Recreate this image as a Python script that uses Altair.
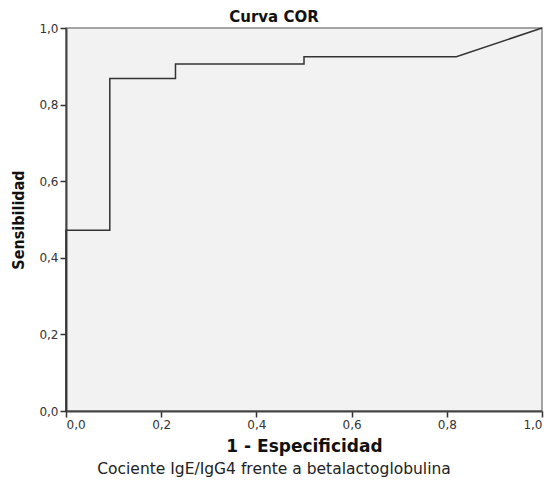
import altair as alt
import pandas as pd

# ROC curve steps (1 - specificity, sensitivity)
fpr = [0.0, 0.0, 0.092, 0.092, 0.23, 0.23, 0.5, 0.5, 0.82, 1.0]
tpr = [0.0, 0.472, 0.472, 0.868, 0.868, 0.906, 0.906, 0.925, 0.925, 1.0]
tick_values = [0.0, 0.2, 0.4, 0.6, 0.8, 1.0]

chart_title = "Curva COR"
x_title = "1 - Especificidad"
y_title = "Sensibilidad"
footnote = "Cociente IgE/IgG4 frente a betalactoglobulina"

df = pd.DataFrame({"fpr": fpr, "tpr": tpr, "order": list(range(len(fpr)))})
foot_df = pd.DataFrame({"t": [footnote]})

label_expr = "replace(format(datum.value, '.1f'), '.', ',')"

common_axis = dict(
    values=tick_values,
    labelExpr=label_expr,
    grid=False,
    domainColor="#444444",
    domainWidth=2,
    tickColor="#333333",
    tickWidth=1.5,
    tickSize=6,
    labelFont="DejaVu Sans",
    labelFontSize=12,
    labelColor="#333333",
    labelPadding=2,
    titleColor="#111111",
    titleFontWeight="bold",
    titleBaseline="alphabetic",
)

x_enc = alt.X(
    "fpr:Q",
    scale=alt.Scale(domain=[0, 1], nice=False),
    axis=alt.Axis(title=x_title, titleFont="DejaVu Sans", titleFontSize=17,
                  titleY=40, **common_axis),
)
y_enc = alt.Y(
    "tpr:Q",
    scale=alt.Scale(domain=[0, 1], nice=False),
    axis=alt.Axis(title=y_title,
                  titleFont="DejaVu Sans Condensed, Liberation Sans Narrow, DejaVu Sans",
                  titleFontSize=16, titleX=-43, titleY=191.5, titleAngle=270,
                  titleAlign="center", **common_axis),
)

line = alt.Chart(df).mark_line(color="#333333", strokeWidth=1.5).encode(
    x=x_enc, y=y_enc, order="order:Q"
)

foot = alt.Chart(foot_df).mark_text(
    font="DejaVu Sans", fontSize=15.5, color="#222222", align="center", baseline="alphabetic"
).encode(text="t:N", x=alt.value(208), y=alt.value(446))

chart = (
    alt.layer(line, foot)
    .properties(
        width=476,
        height=383,
        title=alt.TitleParams(text=chart_title, font="DejaVu Sans", fontSize=15,
                              fontWeight="bold", color="#111111", anchor="middle",
                              dx=-30, dy=4, offset=1),
        padding={"left": 58, "top": 20, "right": 10, "bottom": 67},
        autosize=alt.AutoSizeParams(type="none"),
    )
    .configure_view(fill="#f2f2f2", stroke="#888888", strokeWidth=1.5)
)

chart.save("out.html", embed_options={"renderer": "svg", "actions": False})
